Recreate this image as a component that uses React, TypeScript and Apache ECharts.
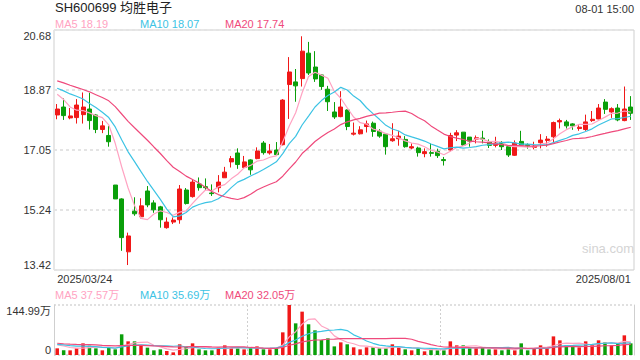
import React, { useEffect, useRef } from "react";
import * as echarts from "echarts";

const title = "SH600699 均胜电子";
const timeLabel = "08-01 15:00";
const watermark = "sina.com";

const dates = [
  "2025/03/24","2025/03/25","2025/03/26","2025/03/27","2025/03/28","2025/03/31",
  "2025/04/01","2025/04/02","2025/04/03","2025/04/07","2025/04/08","2025/04/09","2025/04/10","2025/04/11",
  "2025/04/14","2025/04/15","2025/04/16","2025/04/17","2025/04/18","2025/04/21","2025/04/22","2025/04/23",
  "2025/04/24","2025/04/25","2025/04/28","2025/04/29","2025/04/30",
  "2025/05/06","2025/05/07","2025/05/08","2025/05/09","2025/05/12","2025/05/13","2025/05/14","2025/05/15",
  "2025/05/16","2025/05/19","2025/05/20","2025/05/21","2025/05/22","2025/05/23","2025/05/26","2025/05/27",
  "2025/05/28","2025/05/29","2025/05/30",
  "2025/06/03","2025/06/04","2025/06/05","2025/06/06","2025/06/09","2025/06/10","2025/06/11","2025/06/12",
  "2025/06/13","2025/06/16","2025/06/17","2025/06/18","2025/06/19","2025/06/20","2025/06/23","2025/06/24",
  "2025/06/25","2025/06/26","2025/06/27","2025/06/30",
  "2025/07/01","2025/07/02","2025/07/03","2025/07/04","2025/07/07","2025/07/08","2025/07/09","2025/07/10",
  "2025/07/11","2025/07/14","2025/07/15","2025/07/16","2025/07/17","2025/07/18","2025/07/21","2025/07/22",
  "2025/07/23","2025/07/24","2025/07/25","2025/07/28","2025/07/29","2025/07/30","2025/07/31",
  "2025/08/01"
];

const opens = [
  18.11,18.35,18.02,18.03,18.12,18.29,18.11,17.67,17.49,15.99,
  15.57,13.97,15.20,15.03,15.81,15.45,15.33,14.70,14.87,14.94,
  15.84,15.64,16.02,15.94,15.75,15.91,16.21,16.69,16.96,16.52,
  16.75,16.79,17.26,16.96,17.05,17.21,19.03,19.11,19.21,19.98,
  19.56,19.32,18.89,18.20,18.06,18.26,17.53,17.54,17.76,17.86,
  17.62,17.53,17.33,17.39,17.37,17.11,17.11,16.94,16.97,17.01,
  16.76,17.05,17.50,17.59,17.44,17.38,17.41,17.29,17.19,17.28,
  17.15,16.89,17.31,17.21,17.13,17.27,17.34,17.45,17.90,17.90,
  17.84,17.70,17.67,17.94,17.99,18.50,18.20,18.32,17.94,18.35
];
const closes = [
  18.29,18.09,18.08,18.41,18.35,17.94,17.67,17.78,17.30,15.57,
  14.40,14.45,15.12,15.36,15.39,15.24,14.94,14.87,14.93,15.87,
  15.43,16.08,15.91,15.91,15.73,16.08,16.38,16.79,16.61,16.69,
  16.45,17.02,16.97,17.02,16.91,18.56,19.41,18.99,20.04,19.38,
  19.20,18.97,18.51,18.05,18.35,17.76,17.56,17.66,17.84,17.61,
  17.47,17.15,17.39,17.47,17.15,17.15,16.97,17.00,16.95,16.88,
  16.73,17.49,17.57,17.20,17.32,17.42,17.38,17.19,17.26,17.15,
  16.90,17.26,17.20,17.18,17.17,17.35,17.38,17.88,17.94,17.78,
  17.78,17.74,17.90,17.98,18.32,18.28,18.30,17.96,18.29,18.16
];
const lows = [
  17.98,17.96,17.98,17.85,17.85,17.67,17.56,17.56,17.15,15.57,
  14.00,13.57,15.06,14.98,15.32,15.15,14.70,14.67,14.81,14.82,
  15.40,15.61,15.82,15.84,15.66,15.77,16.21,16.52,16.48,16.49,
  16.30,16.77,16.91,16.91,16.88,17.19,17.99,18.51,18.97,19.32,
  19.11,18.87,18.23,17.99,18.04,17.65,17.49,17.52,17.58,17.45,
  17.42,16.91,17.30,17.18,17.12,17.07,16.85,16.83,16.85,16.81,
  16.58,17.01,17.32,17.18,17.15,17.25,17.25,17.11,17.13,17.05,
  16.84,16.87,17.15,17.09,17.07,17.10,17.15,17.29,17.70,17.70,
  17.66,17.63,17.63,17.90,17.98,18.14,18.02,17.92,17.92,17.96
];
const highs = [
  18.44,18.61,18.32,18.59,18.79,18.78,18.14,17.93,17.78,15.99,
  15.59,14.55,15.62,15.59,15.96,15.53,15.36,15.01,15.01,15.99,
  15.90,16.15,16.22,16.19,16.01,16.29,16.54,16.87,17.10,16.87,
  16.77,17.13,17.32,17.23,17.29,18.59,19.86,19.50,20.49,20.32,
  20.04,19.34,18.99,18.50,18.83,18.28,17.88,17.77,17.94,17.91,
  17.68,17.55,17.86,17.63,17.47,17.25,17.15,17.10,17.25,17.09,
  16.84,17.57,17.65,17.59,17.44,17.49,17.63,17.37,17.45,17.32,
  17.17,17.34,17.63,17.25,17.30,17.53,17.47,17.91,18.00,17.96,
  17.86,17.80,18.12,18.23,18.44,18.59,18.34,18.44,18.97,18.68
];
// volume in 万 (10k)
const volumes = [
  19.3,13.5,13.5,19.3,33.8,27.0,19.3,13.5,21.3,16.4,
  60.0,39.6,39.6,27.0,21.3,13.5,16.4,11.6,7.7,31.0,
  24.0,33.8,16.4,13.5,13.5,21.3,28.0,21.3,19.3,16.4,
  21.3,25.0,16.4,16.4,19.3,65.7,144.99,91.8,125.7,89.0,
  71.5,43.5,48.3,25.0,36.7,31.0,22.2,16.4,22.2,22.2,
  19.3,19.3,31.0,22.2,16.4,13.5,19.3,10.6,19.3,13.5,
  13.5,39.6,28.0,28.0,19.3,19.3,21.3,16.4,16.4,13.5,
  19.3,13.5,33.8,13.5,19.3,28.0,19.3,54.0,42.5,28.0,
  25.0,22.2,39.6,31.0,42.5,36.7,28.0,33.8,57.0,33.8
];
// closes / volumes of the 19 sessions before the visible window (estimated from the MA lines)
const prevCloses = [
  19.30,19.50,19.70,19.60,19.36,19.40,19.50,19.30,19.10,18.84,
  18.90,19.00,19.10,19.20,19.30,18.90,19.20,18.90,18.40
];
const prevVolumes = [
  40,35,38,42,36,33,39,37,34,36,
  30,36,34,31,34,28,35,30,32.7
];

const priceMin = 13.42;
const priceMax = 20.68;
const priceStep = 1.815;
const priceTickLabels = ["13.42", "15.24", "17.05", "18.87", "20.68"];
const volMax = 144.99;

const maPeriods = [5, 10, 20];
const maColors = ["#ffa3c2", "#3cc3e4", "#ef4a7c"];
const maLabels = ["MA5 18.19", "MA10 18.07", "MA20 17.74"];
const volMaLabels = ["MA5 37.57万", "MA10 35.69万", "MA20 32.05万"];

const UP = "#f01818";
const DOWN = "#0a9f0a";
const FONT = "'Liberation Sans', Arial, 'Noto Sans CJK SC', sans-serif";

function movingAverage(prev: number[], values: number[], n: number) {
  const all = prev.concat(values);
  const off = prev.length;
  return values.map((_, i) => {
    const end = off + i;
    const start = end - n + 1;
    if (start < 0) return null;
    let s = 0;
    for (let k = start; k <= end; k++) s += all[k];
    return +(s / n).toFixed(4);
  });
}

export default function App() {
  const ref = useRef<HTMLDivElement>(null);
  useEffect(() => {
    if (!ref.current) return;
    const chart = echarts.init(ref.current, undefined, { renderer: "svg" });
    const candles = dates.map((_, i) => [opens[i], closes[i], lows[i], highs[i]]);
    const volData = volumes.map((v, i) => ({
      value: v,
      itemStyle: { color: closes[i] >= opens[i] ? UP : DOWN },
    }));
    const priceMA = maPeriods.map((n) => movingAverage(prevCloses, closes, n));
    const volMA = maPeriods.map((n) => movingAverage(prevVolumes, volumes, n));

    const legendTexts: any[] = [];
    maLabels.forEach((t, k) => {
      legendTexts.push({
        type: "text", left: 55 + k * 85, top: 18,
        style: { text: t, fill: maColors[k], fontSize: 11, fontFamily: FONT },
      });
    });
    volMaLabels.forEach((t, k) => {
      legendTexts.push({
        type: "text", left: 55 + k * 85, top: 289,
        style: { text: t, fill: maColors[k], fontSize: 11, fontFamily: FONT },
      });
    });

    const option: any = {
      animation: false,
      backgroundColor: "#fff",
      textStyle: { fontFamily: FONT },
      grid: [
        { left: 54, top: 30, width: 580, height: 240, show: true, borderColor: "#cfcfcf", borderWidth: 1, outerBoundsMode: "none" },
        { left: 54, top: 305, width: 580, height: 50, outerBoundsMode: "none" },
      ],
      xAxis: [
        {
          type: "category", gridIndex: 0, data: dates, boundaryGap: true,
          axisLine: { show: false }, axisTick: { show: false }, splitLine: { show: false },
          axisLabel: {
            interval: (i: number) => i === 0 || i === dates.length - 1,
            fontSize: 11, color: "#333", margin: 3, fontFamily: FONT,
            alignMinLabel: "left", alignMaxLabel: "right",
          },
        },
        {
          type: "category", gridIndex: 1, data: dates, boundaryGap: true,
          axisLine: { show: false }, axisTick: { show: false }, axisLabel: { show: false },
          splitLine: {
            show: true,
            interval: (i: number) => i === 30 || i === 60,
            lineStyle: { color: "#cfcfcf", type: [2, 2], width: 1 },
          },
        },
      ],
      yAxis: [
        {
          type: "value", gridIndex: 0, min: priceMin, max: priceMax, interval: priceStep,
          axisLine: { show: false }, axisTick: { show: false },
          axisLabel: {
            fontSize: 11, color: "#333", margin: 3, fontFamily: FONT,
            formatter: (v: number) => priceTickLabels[Math.round((v - priceMin) / priceStep)] ?? v.toFixed(2),
            verticalAlignMinLabel: "bottom", verticalAlignMaxLabel: "top",
          },
          splitLine: { show: true, lineStyle: { color: "#e4e4e4", type: [3, 3], width: 2 } },
        },
        {
          type: "value", gridIndex: 1, min: 0, max: volMax, interval: volMax, position: "left",
          axisLine: { show: true, lineStyle: { color: "#cfcfcf" } }, axisTick: { show: false },
          axisLabel: {
            fontSize: 11, color: "#333", margin: 3, fontFamily: FONT,
            formatter: (v: number) => (v === 0 ? "0" : v.toFixed(2) + "万"),
            verticalAlignMinLabel: "bottom", verticalAlignMaxLabel: "top",
          },
          splitLine: { show: true, lineStyle: { color: "#d6d6d6", type: [2, 2], width: 1.5 } },
        },
        {
          type: "value", gridIndex: 1, min: 0, max: volMax, position: "right",
          axisLine: { show: true, lineStyle: { color: "#cfcfcf" } }, axisTick: { show: false },
          axisLabel: { show: false }, splitLine: { show: false },
        },
      ],
      series: [
        {
          type: "candlestick", xAxisIndex: 0, yAxisIndex: 0, data: candles, barWidth: 4.5,
          itemStyle: { color: UP, color0: DOWN, borderColor: UP, borderColor0: DOWN, borderWidth: 1 },
        },
        ...maPeriods.map((n, k) => ({
          type: "line", name: "MA" + n, xAxisIndex: 0, yAxisIndex: 0, data: priceMA[k],
          symbol: "none", smooth: false, connectNulls: false,
          lineStyle: { color: maColors[k], width: 1.2 },
        })),
        {
          type: "bar", xAxisIndex: 1, yAxisIndex: 1, data: volData, barWidth: 3.5,
        },
        ...maPeriods.map((n, k) => ({
          type: "line", name: "VMA" + n, xAxisIndex: 1, yAxisIndex: 1, data: volMA[k],
          symbol: "none", smooth: false,
          lineStyle: { color: maColors[k], width: 1.2 },
        })),
      ],
      graphic: [
        { type: "text", left: 55, top: 1, style: { text: title, fill: "#222", fontSize: 13, fontFamily: FONT } },
        { type: "text", right: 6, top: 3, style: { text: timeLabel, fill: "#333", fontSize: 11, fontFamily: FONT } },
        { type: "text", left: 582, top: 242, style: { text: watermark, fill: "#d4d4d4", fontSize: 13, fontFamily: FONT } },
        ...legendTexts,
      ],
    };
    chart.setOption(option);
    return () => chart.dispose();
  }, []);
  return (
    <div
      ref={ref}
      style={{ position: "absolute", left: 0, top: 0, width: 640, height: 360, background: "#fff" }}
    />
  );
}
